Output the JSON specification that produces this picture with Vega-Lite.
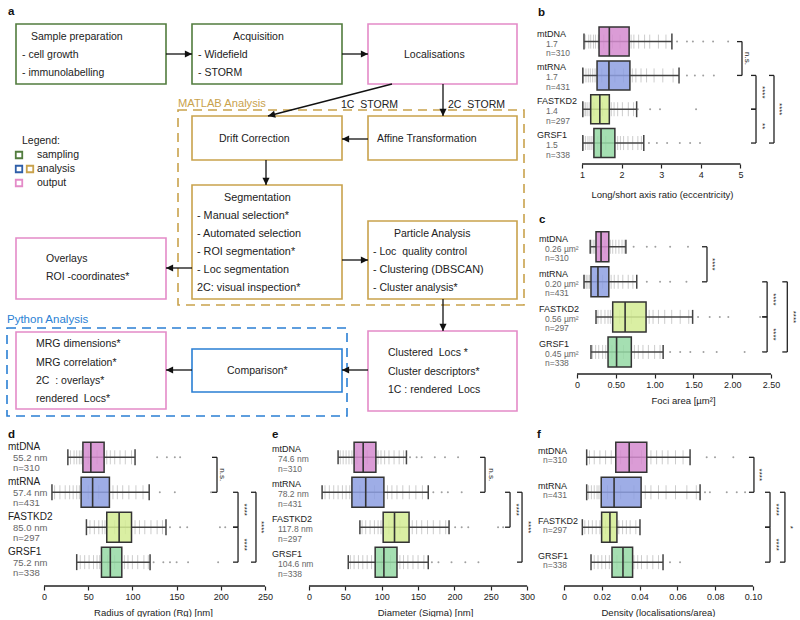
{
"$schema": "https://vega.github.io/schema/vega-lite/v6.json",
"padding": 0,
"config": {
  "font": "Liberation Sans",
  "view": {"stroke": null},
  "axisY": {"disable": true},
  "axisX": {"domain": false, "grid": false, "tickColor": "#222", "tickSize": 4, "tickWidth": 1.2, "labelFontSize": 9, "labelColor": "#222", "labelPadding": 2, "labelFlush": false, "labelOverlap": false, "titleFontSize": 9.5, "titleFontWeight": "normal", "titleColor": "#222", "titlePadding": 6, "titleAlign": "center"}
},
"datasets": {
  "box": [
    {"p":"b","g":"mtDNA","i":0,"lo":1.05,"q1":1.43,"med":1.69,"q3":2.19,"hi":3.27,"info":"1.7\nn=310"},
    {"p":"b","g":"mtRNA","i":1,"lo":1.02,"q1":1.38,"med":1.68,"q3":2.21,"hi":3.45,"info":"1.7\nn=431"},
    {"p":"b","g":"FASTKD2","i":2,"lo":1.02,"q1":1.22,"med":1.45,"q3":1.69,"hi":2.38,"info":"1.4\nn=297"},
    {"p":"b","g":"GRSF1","i":3,"lo":1.02,"q1":1.30,"med":1.48,"q3":1.83,"hi":2.56,"info":"1.5\nn=338"},
    {"p":"c","g":"mtDNA","i":0,"lo":0.17,"q1":0.245,"med":0.31,"q3":0.41,"hi":0.63,"info":"0.26 µm²\nn=310"},
    {"p":"c","g":"mtRNA","i":1,"lo":0.09,"q1":0.18,"med":0.27,"q3":0.41,"hi":0.77,"info":"0.20 µm²\nn=431"},
    {"p":"c","g":"FASTKD2","i":2,"lo":0.245,"q1":0.46,"med":0.62,"q3":0.89,"hi":1.49,"info":"0.56 µm²\nn=297"},
    {"p":"c","g":"GRSF1","i":3,"lo":0.18,"q1":0.40,"med":0.51,"q3":0.70,"hi":1.11,"info":"0.45 µm²\nn=338"},
    {"p":"d","g":"mtDNA","i":0,"lo":27,"q1":44,"med":53,"q3":68,"hi":103,"info":"55.2 nm\nn=310"},
    {"p":"d","g":"mtRNA","i":1,"lo":9,"q1":42,"med":55,"q3":74,"hi":119,"info":"57.4 nm\nn=431"},
    {"p":"d","g":"FASTKD2","i":2,"lo":48,"q1":71,"med":85,"q3":99,"hi":138,"info":"85.0 nm\nn=297"},
    {"p":"d","g":"GRSF1","i":3,"lo":37,"q1":65,"med":75,"q3":88,"hi":120,"info":"75.2 nm\nn=338"},
    {"p":"e","g":"mtDNA","i":0,"lo":40,"q1":62,"med":74.5,"q3":92,"hi":134,"info":"74.6 nm\nn=310"},
    {"p":"e","g":"mtRNA","i":1,"lo":18,"q1":59,"med":78,"q3":103,"hi":164,"info":"78.2 nm\nn=431"},
    {"p":"e","g":"FASTKD2","i":2,"lo":70,"q1":102,"med":117.6,"q3":137.6,"hi":192.6,"info":"117.8 nm\nn=297"},
    {"p":"e","g":"GRSF1","i":3,"lo":54,"q1":91,"med":103,"q3":121,"hi":164,"info":"104.6 nm\nn=338"},
    {"p":"f","g":"mtDNA","i":0,"lo":0.012,"q1":0.0274,"med":0.0345,"q3":0.0438,"hi":0.0667,"info":"n=310"},
    {"p":"f","g":"mtRNA","i":1,"lo":0.012,"q1":0.0197,"med":0.0265,"q3":0.0408,"hi":0.072,"info":"n=431"},
    {"p":"f","g":"FASTKD2","i":2,"lo":0.0097,"q1":0.0199,"med":0.0243,"q3":0.028,"hi":0.0402,"info":"n=297"},
    {"p":"f","g":"GRSF1","i":3,"lo":0.0143,"q1":0.0254,"med":0.0312,"q3":0.0363,"hi":0.0524,"info":"n=338"}
  ],
  "sw": [
    {"p":"b","i":0,"v":[1.08,1.17,1.22,1.29,1.34,1.41,1.55,1.77,1.96,2.24,2.31,2.43,2.58,2.71,2.93,3.12]},
    {"p":"b","i":1,"v":[1.04,1.1,1.16,1.21,1.27,1.33,1.5,1.83,2.05,2.27,2.36,2.49,2.63,2.82,3.04,3.3]},
    {"p":"b","i":2,"v":[1.05,1.09,1.13,1.18,1.3,1.52,1.74,1.81,1.9,2.02,2.17,2.3]},
    {"p":"b","i":3,"v":[1.04,1.09,1.15,1.2,1.25,1.4,1.6,1.9,1.97,2.05,2.16,2.28,2.41,2.5]},
    {"p":"c","i":0,"v":[0.19,0.21,0.23,0.3,0.36,0.43,0.46,0.5,0.54,0.58,0.61]},
    {"p":"c","i":1,"v":[0.1,0.12,0.14,0.16,0.25,0.33,0.44,0.48,0.53,0.59,0.66,0.72]},
    {"p":"c","i":2,"v":[0.27,0.31,0.36,0.4,0.43,0.55,0.7,0.93,0.98,1.05,1.13,1.22,1.33,1.44]},
    {"p":"c","i":3,"v":[0.2,0.24,0.28,0.33,0.37,0.45,0.6,0.74,0.79,0.85,0.92,1.0,1.07]},
    {"p":"d","i":0,"v":[30,34,37,40,42,50,60,71,75,80,86,92,99]},
    {"p":"d","i":1,"v":[12,18,24,29,33,37,40,50,62,78,83,89,96,104,112]},
    {"p":"d","i":2,"v":[52,57,62,66,69,80,92,103,108,114,121,128,134]},
    {"p":"d","i":3,"v":[41,46,51,56,60,63,72,80,91,95,100,106,113,118]},
    {"p":"e","i":0,"v":[43,47,51,55,59,66,80,95,99,104,110,117,124,130]},
    {"p":"e","i":1,"v":[22,28,34,40,46,51,56,70,90,108,114,121,129,138,147,156]},
    {"p":"e","i":2,"v":[73,78,84,90,95,99,110,125,142,148,155,163,171,180,188]},
    {"p":"e","i":3,"v":[57,62,68,74,80,86,100,112,125,130,136,143,150,158]},
    {"p":"f","i":0,"v":[0.0135,0.016,0.019,0.022,0.025,0.03,0.036,0.041,0.046,0.049,0.052,0.055,0.059,0.063]},
    {"p":"f","i":1,"v":[0.013,0.0145,0.016,0.0175,0.0185,0.023,0.03,0.037,0.043,0.046,0.05,0.054,0.059,0.065,0.07]},
    {"p":"f","i":2,"v":[0.011,0.013,0.015,0.017,0.019,0.022,0.025,0.029,0.031,0.033,0.035,0.038]},
    {"p":"f","i":3,"v":[0.016,0.018,0.02,0.022,0.024,0.028,0.032,0.037,0.039,0.041,0.044,0.047,0.05]}
  ],
  "out": [
    {"p":"b","i":0,"v":[3.40,3.65,3.80,4.06,4.31,4.69]},
    {"p":"b","i":1,"v":[3.65,3.85,4.06,4.33]},
    {"p":"b","i":2,"v":[2.41,2.72,2.97,3.88]},
    {"p":"b","i":3,"v":[2.69,2.89,3.15,3.47,3.73,3.98]},
    {"p":"c","i":0,"v":[0.73,0.9,1.01,1.2,1.43]},
    {"p":"c","i":1,"v":[0.9,1.07,1.2,1.41]},
    {"p":"c","i":2,"v":[1.56,1.71,1.84,1.95,2.36]},
    {"p":"c","i":3,"v":[1.2,1.33,1.46,1.63,1.8,2.16]},
    {"p":"d","i":0,"v":[128,139,148,154]},
    {"p":"d","i":1,"v":[131,148,189]},
    {"p":"d","i":2,"v":[142.5,154,162,199,205]},
    {"p":"d","i":3,"v":[124,135,142.5,150,163,197]},
    {"p":"e","i":0,"v":[139,148,155,173,187,205]},
    {"p":"e","i":1,"v":[171,182.5,191,210]},
    {"p":"e","i":2,"v":[201,210,219,260,267]},
    {"p":"e","i":3,"v":[169,178,196,215,233]},
    {"p":"f","i":0,"v":[0.0755,0.0799,0.0896]},
    {"p":"f","i":1,"v":[0.0746,0.0772,0.0861,0.0914,0.0958]},
    {"p":"f","i":3,"v":[0.0561,0.0614]}
  ],
  "br": [
    {"p":"b","i1":0,"i2":1,"im":0.5,"x":5.04,"lab":"n.s."},
    {"p":"b","i1":1,"i2":2,"im":1.5,"x":5.394,"lab":"****"},
    {"p":"b","i1":2,"i2":3,"im":2.5,"x":5.394,"lab":"**"},
    {"p":"b","i1":1,"i2":3,"im":2,"x":5.848,"lab":"****"},
    {"p":"c","i1":0,"i2":1,"im":0.5,"x":1.675,"lab":"****"},
    {"p":"c","i1":1,"i2":2,"im":1.5,"x":2.45,"lab":"****"},
    {"p":"c","i1":2,"i2":3,"im":2.5,"x":2.45,"lab":"****"},
    {"p":"c","i1":1,"i2":3,"im":2,"x":2.71,"lab":"****"},
    {"p":"d","i1":0,"i2":1,"im":0.5,"x":195.7,"lab":"n.s."},
    {"p":"d","i1":1,"i2":2,"im":1.5,"x":219.5,"lab":"****"},
    {"p":"d","i1":2,"i2":3,"im":2.5,"x":219.5,"lab":"****"},
    {"p":"d","i1":1,"i2":3,"im":2,"x":239.8,"lab":"****"},
    {"p":"e","i1":0,"i2":1,"im":0.5,"x":242.1,"lab":"n.s."},
    {"p":"e","i1":1,"i2":2,"im":1.5,"x":276.5,"lab":"****"},
    {"p":"e","i1":1,"i2":3,"im":2,"x":293,"lab":"****"},
    {"p":"f","i1":0,"i2":1,"im":0.5,"x":0.1005,"lab":"****"},
    {"p":"f","i1":1,"i2":2,"im":1.5,"x":0.109,"lab":"****"},
    {"p":"f","i1":2,"i2":3,"im":2.5,"x":0.109,"lab":"****"},
    {"p":"f","i1":1,"i2":3,"im":2,"x":0.1169,"lab":"*"}
  ],
  "fbox": [
    {"x":16,"x2":166,"y":24,"y2":84,"kind":"sampling"},
    {"x":192,"x2":342,"y":24,"y2":84,"kind":"sampling"},
    {"x":368,"x2":517,"y":24,"y2":84,"kind":"output"},
    {"x":192,"x2":342,"y":116,"y2":160,"kind":"matlab"},
    {"x":368,"x2":517,"y":116,"y2":160,"kind":"matlab"},
    {"x":192,"x2":342,"y":185,"y2":299,"kind":"matlab"},
    {"x":16,"x2":166,"y":238,"y2":299,"kind":"output"},
    {"x":368,"x2":517,"y":221,"y2":299,"kind":"matlab"},
    {"x":368,"x2":517,"y":331,"y2":411,"kind":"output"},
    {"x":16,"x2":166,"y":332,"y2":409,"kind":"output"},
    {"x":192,"x2":342,"y":349,"y2":392,"kind":"python"}
  ],
  "cont": [
    {"x":178,"x2":524,"y":110,"y2":305,"kind":"matlab"},
    {"x":7,"x2":347,"y":328,"y2":416,"kind":"python"}
  ],
  "arr": [
    {"x":166,"y":54,"x2":192,"y2":54,"dir":"r"},
    {"x":342,"y":54,"x2":368,"y2":54,"dir":"r"},
    {"x":392,"y":84,"x2":268,"y2":116,"dir":"dl"},
    {"x":443,"y":84,"x2":443,"y2":116,"dir":"d"},
    {"x":368,"y":139,"x2":342,"y2":139,"dir":"l"},
    {"x":266,"y":160,"x2":266,"y2":185,"dir":"d"},
    {"x":192,"y":268,"x2":166,"y2":268,"dir":"l"},
    {"x":342,"y":260,"x2":368,"y2":260,"dir":"r"},
    {"x":443,"y":299,"x2":443,"y2":331,"dir":"d"},
    {"x":368,"y":370,"x2":342,"y2":370,"dir":"l"},
    {"x":192,"y":370,"x2":166,"y2":370,"dir":"l"}
  ],
  "leg": [
    {"x":19,"y":155,"kind":"sampling"},
    {"x":19,"y":169,"kind":"analysis"},
    {"x":30,"y":169,"kind":"matlab"},
    {"x":19,"y":183,"kind":"output"}
  ],
  "ftxt": [
    {"x":31,"y":37,"t":"Sample preparation","role":"body"},
    {"x":22,"y":55,"t":"- cell growth","role":"body"},
    {"x":22,"y":73,"t":"- immunolabelling","role":"body"},
    {"x":233,"y":37,"t":"Acquisition","role":"body"},
    {"x":198,"y":55,"t":"- Widefield","role":"body"},
    {"x":198,"y":73,"t":"- STORM","role":"body"},
    {"x":404,"y":55,"t":"Localisations","role":"body"},
    {"x":178,"y":104,"t":"MATLAB Analysis","role":"matlab"},
    {"x":341,"y":105,"t":"1C\u00a0 STORM","role":"body"},
    {"x":448,"y":105,"t":"2C\u00a0 STORM","role":"body"},
    {"x":219,"y":139,"t":"Drift Correction","role":"body"},
    {"x":377,"y":139,"t":"Affine Transformation","role":"body"},
    {"x":22,"y":141,"t":"Legend:","role":"body"},
    {"x":37,"y":155,"t":"sampling","role":"body"},
    {"x":37,"y":169,"t":"analysis","role":"body"},
    {"x":37,"y":183,"t":"output","role":"body"},
    {"x":224,"y":198,"t":"Segmentation","role":"seg"},
    {"x":197,"y":216,"t":"- Manual selection*","role":"seg"},
    {"x":197,"y":234,"t":"- Automated selection","role":"seg"},
    {"x":197,"y":252,"t":"- ROI segmentation*","role":"seg"},
    {"x":197,"y":270,"t":"- Loc segmentation","role":"seg"},
    {"x":197,"y":288,"t":"2C: visual inspection*","role":"seg"},
    {"x":46,"y":259,"t":"Overlays","role":"body"},
    {"x":46,"y":277,"t":"ROI -coordinates*","role":"body"},
    {"x":394,"y":234,"t":"Particle Analysis","role":"body"},
    {"x":373,"y":252,"t":"- Loc\u00a0 quality control","role":"body"},
    {"x":373,"y":270,"t":"- Clustering (DBSCAN)","role":"seg"},
    {"x":373,"y":288,"t":"- Cluster analysis*","role":"body"},
    {"x":7,"y":320,"t":"Python Analysis","role":"python"},
    {"x":36,"y":344,"t":"MRG dimensions*","role":"body"},
    {"x":36,"y":363,"t":"MRG correlation*","role":"body"},
    {"x":36,"y":381,"t":"2C\u00a0 : overlays*","role":"body"},
    {"x":36,"y":399,"t":"rendered\u00a0 Locs*","role":"body"},
    {"x":227,"y":371,"t":"Comparison*","role":"body"},
    {"x":388,"y":353,"t":"Clustered\u00a0 Locs *","role":"body"},
    {"x":388,"y":372,"t":"Cluster descriptors*","role":"body"},
    {"x":388,"y":390,"t":"1C : rendered\u00a0 Locs","role":"body"}
  ]
},
"spacing": 3,
"vconcat": [
{
 "spacing": 12,
 "hconcat": [
  {
   "width": 525, "height": 420,
   "layer": [
    {"data":{"name":"cont"},"mark":{"type":"rect","filled":false,"strokeDash":[9,6],"strokeWidth":1.6},
     "encoding":{"x":{"field":"x","type":"quantitative","scale":{"domain":[0,525],"nice":false,"zero":false},"axis":null},"x2":{"field":"x2"},
       "y":{"field":"y","type":"quantitative","scale":{"domain":[0,420],"nice":false,"zero":false,"reverse":true},"axis":null},"y2":{"field":"y2"},
       "stroke":{"field":"kind","type":"nominal","scale":{"domain":["sampling","matlab","python","output","analysis"],"range":["#527c3e","#c9a24c","#2a7fd4","#e48bc8","#2e5ea8"]},"legend":null}}},
    {"data":{"name":"fbox"},"mark":{"type":"rect","fill":"white","strokeWidth":1.6},
     "encoding":{"x":{"field":"x","type":"quantitative","axis":null},"x2":{"field":"x2"},"y":{"field":"y","type":"quantitative","axis":null},"y2":{"field":"y2"},
       "stroke":{"field":"kind","type":"nominal","legend":null}}},
    {"data":{"name":"arr"},"mark":{"type":"rule","color":"#111","strokeWidth":1.3},
     "encoding":{"x":{"field":"x","type":"quantitative","axis":null},"y":{"field":"y","type":"quantitative","axis":null},"x2":{"field":"x2"},"y2":{"field":"y2"}}},
    {"data":{"name":"arr"},"mark":{"type":"point","filled":true,"color":"#111","size":80,"opacity":1},
     "encoding":{"x":{"field":"x2","type":"quantitative","axis":null},"y":{"field":"y2","type":"quantitative","axis":null},
       "shape":{"field":"dir","type":"nominal","scale":{"domain":["r","l","d","dl"],"range":["M0,0L-1.6,-0.8L-1.6,0.8Z","M0,0L1.6,-0.8L1.6,0.8Z","M0,0L-0.8,-1.6L0.8,-1.6Z","M0,0L1.349,-1.174L1.749,0.374Z"]},"legend":null}}},
    {"data":{"name":"leg"},"mark":{"type":"point","shape":"square","filled":false,"size":42,"strokeWidth":1.8,"opacity":1},
     "encoding":{"x":{"field":"x","type":"quantitative","axis":null},"y":{"field":"y","type":"quantitative","axis":null},"stroke":{"field":"kind","type":"nominal","legend":null}}},
    {"data":{"name":"ftxt"},"mark":{"type":"text","align":"left","baseline":"middle"},
     "encoding":{"x":{"field":"x","type":"quantitative","axis":null},"y":{"field":"y","type":"quantitative","axis":null},"text":{"field":"t"},
       "color":{"field":"role","type":"nominal","scale":{"domain":["body","seg","matlab","python"],"range":["#222222","#222222","#c9a24c","#2a7fd4"]},"legend":null},
       "size":{"field":"role","type":"ordinal","scale":{"domain":["body","seg","matlab","python"],"range":[10.5,11.5,10.5,10.5]},"legend":null}}},
    {"data":{"values":[{}]},"mark":{"type":"text","fontWeight":"bold","fontSize":11.5,"align":"left","baseline":"middle","color":"#111"},
     "encoding":{"x":{"datum":8,"axis":null},"y":{"datum":12,"axis":null},"text":{"value":"a"}}}
   ]
  },
  {
   "spacing": 37,
   "bounds": "flush",
   "vconcat": [
    {
     "width": 260, "height": 164,
     "layer": [
      {"data":{"values":[{}]},"mark":{"type":"rule","color":"#222","strokeWidth":1.4},
       "encoding":{"x":{"datum":1,"type":"quantitative","scale":{"domain":[-0.1364,6.429],"nice":false,"zero":false},"axis":{"values":[1,2,3,4,5],"format":"d","title":"Long/short axis ratio (eccentricity)","titleX":125,"titlePadding":10}},"x2":{"datum":5},"y":{"value":"height"}}},
      {"data":{"name":"sw"},"transform":[{"filter":"datum.p==='b'"},{"flatten":["v"]}],"mark":{"type":"point","shape":"M0,-1L0,1","filled":false,"size":196,"strokeWidth":0.9,"color":"#c2c2c2","opacity":0.9},
       "encoding":{"x":{"field":"v","type":"quantitative"},"y":{"field":"i","type":"quantitative","scale":{"domain":[-1.083,3.472],"nice":false,"zero":false,"reverse":true}}}},
      {"data":{"name":"out"},"transform":[{"filter":"datum.p==='b'"},{"flatten":["v"]}],"mark":{"type":"circle","size":4,"color":"#a0a0a0","opacity":1},
       "encoding":{"x":{"field":"v","type":"quantitative"},"y":{"field":"i","type":"quantitative"}}},
      {"data":{"name":"box"},"transform":[{"filter":"datum.p==='b'"}],"layer":[
        {"mark":{"type":"rule","color":"#444","strokeWidth":1.5},"encoding":{"x":{"field":"lo","type":"quantitative"},"x2":{"field":"hi"},"y":{"field":"i","type":"quantitative"}}},
        {"mark":{"type":"bar","orient":"horizontal","size":29,"stroke":"#333","strokeWidth":1.5,"fillOpacity":0.85},"encoding":{"x":{"field":"q1","type":"quantitative"},"x2":{"field":"q3"},"y":{"field":"i","type":"quantitative"},"fill":{"field":"g","type":"nominal","scale":{"domain":["mtDNA","mtRNA","FASTKD2","GRSF1"],"range":["#d58bcf","#8d9fe2","#d3ec93","#95d9a4"]},"legend":null}}},
        {"mark":{"type":"point","shape":"M0,-1L0,1","filled":false,"size":841,"strokeWidth":1.6,"color":"#333","opacity":1},"encoding":{"x":{"field":"med","type":"quantitative"},"y":{"field":"i","type":"quantitative"}}},
        {"mark":{"type":"point","shape":"M0,-1L0,1","filled":false,"size":256,"strokeWidth":1.5,"color":"#444","opacity":1},"encoding":{"x":{"field":"lo","type":"quantitative"},"y":{"field":"i","type":"quantitative"}}},
        {"mark":{"type":"point","shape":"M0,-1L0,1","filled":false,"size":256,"strokeWidth":1.5,"color":"#444","opacity":1},"encoding":{"x":{"field":"hi","type":"quantitative"},"y":{"field":"i","type":"quantitative"}}},
        {"mark":{"type":"text","align":"left","baseline":"middle","dy":-8,"fontSize":9,"color":"#222"},"encoding":{"x":{"datum":-0.1364},"y":{"field":"i","type":"quantitative"},"text":{"field":"g"}}},
        {"mark":{"type":"text","align":"left","baseline":"middle","dx":9,"dy":2,"fontSize":8.5,"color":"#666","lineBreak":"\n","lineHeight":9.5},"encoding":{"x":{"datum":-0.1364},"y":{"field":"i","type":"quantitative"},"text":{"field":"info"}}}
      ]},
      {"data":{"name":"br"},"transform":[{"filter":"datum.p==='b'"}],"layer":[
        {"mark":{"type":"rule","color":"#222","strokeWidth":1.3},"encoding":{"x":{"field":"x","type":"quantitative"},"y":{"field":"i1","type":"quantitative"},"y2":{"field":"i2"}}},
        {"mark":{"type":"point","shape":"M-1,0L0,0","filled":false,"size":100,"strokeWidth":1.3,"color":"#222","opacity":1},"encoding":{"x":{"field":"x","type":"quantitative"},"y":{"field":"i1","type":"quantitative"}}},
        {"mark":{"type":"point","shape":"M-1,0L0,0","filled":false,"size":100,"strokeWidth":1.3,"color":"#222","opacity":1},"encoding":{"x":{"field":"x","type":"quantitative"},"y":{"field":"i2","type":"quantitative"}}},
        {"mark":{"type":"text","angle":90,"align":"center","baseline":"middle","xOffset":5.5,"fontSize":8,"color":"#222"},"encoding":{"x":{"field":"x","type":"quantitative"},"y":{"field":"im","type":"quantitative"},"text":{"field":"lab"}}}
      ]},
      {"data":{"values":[{}]},"mark":{"type":"text","fontWeight":"bold","fontSize":11.5,"align":"left","baseline":"middle","color":"#111"},
       "encoding":{"x":{"datum":-0.111},"y":{"datum":-0.833},"text":{"value":"b"}}}
     ]
    },
    {
     "width": 260, "height": 173,
     "layer": [
      {"data":{"values":[{}]},"mark":{"type":"rule","color":"#222","strokeWidth":1.4},
       "encoding":{"x":{"datum":0,"type":"quantitative","scale":{"domain":[-0.5155,2.835],"nice":false,"zero":false},"axis":{"values":[0,0.5,1,1.5,2,2.5],"labelExpr":"datum.value === 0 ? '0' : format(datum.value, '.2f')","title":"Foci area [µm²]","titleX":146}},"x2":{"datum":2.5},"y":{"value":"height"}}},
      {"data":{"name":"sw"},"transform":[{"filter":"datum.p==='c'"},{"flatten":["v"]}],"mark":{"type":"point","shape":"M0,-1L0,1","filled":false,"size":196,"strokeWidth":0.9,"color":"#c2c2c2","opacity":0.9},
       "encoding":{"x":{"field":"v","type":"quantitative"},"y":{"field":"i","type":"quantitative","scale":{"domain":[-1.162,3.486],"nice":false,"zero":false,"reverse":true}}}},
      {"data":{"name":"out"},"transform":[{"filter":"datum.p==='c'"},{"flatten":["v"]}],"mark":{"type":"circle","size":4,"color":"#a0a0a0","opacity":1},
       "encoding":{"x":{"field":"v","type":"quantitative"},"y":{"field":"i","type":"quantitative"}}},
      {"data":{"name":"box"},"transform":[{"filter":"datum.p==='c'"}],"layer":[
        {"mark":{"type":"rule","color":"#444","strokeWidth":1.5},"encoding":{"x":{"field":"lo","type":"quantitative"},"x2":{"field":"hi"},"y":{"field":"i","type":"quantitative"}}},
        {"mark":{"type":"bar","orient":"horizontal","size":30,"stroke":"#333","strokeWidth":1.5,"fillOpacity":0.85},"encoding":{"x":{"field":"q1","type":"quantitative"},"x2":{"field":"q3"},"y":{"field":"i","type":"quantitative"},"fill":{"field":"g","type":"nominal","scale":{"domain":["mtDNA","mtRNA","FASTKD2","GRSF1"],"range":["#d58bcf","#8d9fe2","#d3ec93","#95d9a4"]},"legend":null}}},
        {"mark":{"type":"point","shape":"M0,-1L0,1","filled":false,"size":900,"strokeWidth":1.6,"color":"#333","opacity":1},"encoding":{"x":{"field":"med","type":"quantitative"},"y":{"field":"i","type":"quantitative"}}},
        {"mark":{"type":"point","shape":"M0,-1L0,1","filled":false,"size":196,"strokeWidth":1.5,"color":"#444","opacity":1},"encoding":{"x":{"field":"lo","type":"quantitative"},"y":{"field":"i","type":"quantitative"}}},
        {"mark":{"type":"point","shape":"M0,-1L0,1","filled":false,"size":196,"strokeWidth":1.5,"color":"#444","opacity":1},"encoding":{"x":{"field":"hi","type":"quantitative"},"y":{"field":"i","type":"quantitative"}}},
        {"mark":{"type":"text","align":"left","baseline":"middle","dy":-8,"fontSize":9,"color":"#222"},"encoding":{"x":{"datum":-0.49},"y":{"field":"i","type":"quantitative"},"text":{"field":"g"}}},
        {"mark":{"type":"text","align":"left","baseline":"middle","dx":6,"dy":2,"fontSize":8.5,"color":"#666","lineBreak":"\n","lineHeight":9.5},"encoding":{"x":{"datum":-0.49},"y":{"field":"i","type":"quantitative"},"text":{"field":"info"}}}
      ]},
      {"data":{"name":"br"},"transform":[{"filter":"datum.p==='c'"}],"layer":[
        {"mark":{"type":"rule","color":"#222","strokeWidth":1.3},"encoding":{"x":{"field":"x","type":"quantitative"},"y":{"field":"i1","type":"quantitative"},"y2":{"field":"i2"}}},
        {"mark":{"type":"point","shape":"M-1,0L0,0","filled":false,"size":100,"strokeWidth":1.3,"color":"#222","opacity":1},"encoding":{"x":{"field":"x","type":"quantitative"},"y":{"field":"i1","type":"quantitative"}}},
        {"mark":{"type":"point","shape":"M-1,0L0,0","filled":false,"size":100,"strokeWidth":1.3,"color":"#222","opacity":1},"encoding":{"x":{"field":"x","type":"quantitative"},"y":{"field":"i2","type":"quantitative"}}},
        {"mark":{"type":"text","angle":90,"align":"center","baseline":"middle","xOffset":5.5,"fontSize":8,"color":"#222"},"encoding":{"x":{"field":"x","type":"quantitative"},"y":{"field":"im","type":"quantitative"},"text":{"field":"lab"}}}
      ]},
      {"data":{"values":[{}]},"mark":{"type":"text","fontWeight":"bold","fontSize":11.5,"align":"left","baseline":"middle","color":"#111"},
       "encoding":{"x":{"datum":-0.49},"y":{"datum":-0.757},"text":{"value":"c"}}}
     ]
    }
   ]
  }
 ]
},
{
 "spacing": 2,
 "bounds": "flush",
 "hconcat": [
  {
   "width": 266, "height": 163,
   "layer": [
    {"data":{"values":[{}]},"mark":{"type":"rule","color":"#222","strokeWidth":1.4},
     "encoding":{"x":{"datum":0,"type":"quantitative","scale":{"domain":[-49.77,251.13],"nice":false,"zero":false},"axis":{"values":[0,50,100,150,200,250],"format":"d","title":"Radius of gyration (Rg) [nm]","titleX":153}},"x2":{"datum":250},"y":{"value":"height"}}},
    {"data":{"name":"sw"},"transform":[{"filter":"datum.p==='d'"},{"flatten":["v"]}],"mark":{"type":"point","shape":"M0,-1L0,1","filled":false,"size":196,"strokeWidth":0.9,"color":"#c2c2c2","opacity":0.9},
     "encoding":{"x":{"field":"v","type":"quantitative"},"y":{"field":"i","type":"quantitative","scale":{"domain":[-0.84,3.54],"nice":false,"zero":false,"reverse":true}}}},
    {"data":{"name":"out"},"transform":[{"filter":"datum.p==='d'"},{"flatten":["v"]}],"mark":{"type":"circle","size":4,"color":"#a0a0a0","opacity":1},
     "encoding":{"x":{"field":"v","type":"quantitative"},"y":{"field":"i","type":"quantitative"}}},
    {"data":{"name":"box"},"transform":[{"filter":"datum.p==='d'"}],"layer":[
      {"mark":{"type":"rule","color":"#444","strokeWidth":1.5},"encoding":{"x":{"field":"lo","type":"quantitative"},"x2":{"field":"hi"},"y":{"field":"i","type":"quantitative"}}},
      {"mark":{"type":"bar","orient":"horizontal","size":30,"stroke":"#333","strokeWidth":1.5,"fillOpacity":0.85},"encoding":{"x":{"field":"q1","type":"quantitative"},"x2":{"field":"q3"},"y":{"field":"i","type":"quantitative"},"fill":{"field":"g","type":"nominal","scale":{"domain":["mtDNA","mtRNA","FASTKD2","GRSF1"],"range":["#d58bcf","#8d9fe2","#d3ec93","#95d9a4"]},"legend":null}}},
      {"mark":{"type":"point","shape":"M0,-1L0,1","filled":false,"size":900,"strokeWidth":1.6,"color":"#333","opacity":1},"encoding":{"x":{"field":"med","type":"quantitative"},"y":{"field":"i","type":"quantitative"}}},
      {"mark":{"type":"point","shape":"M0,-1L0,1","filled":false,"size":256,"strokeWidth":1.5,"color":"#444","opacity":1},"encoding":{"x":{"field":"lo","type":"quantitative"},"y":{"field":"i","type":"quantitative"}}},
      {"mark":{"type":"point","shape":"M0,-1L0,1","filled":false,"size":256,"strokeWidth":1.5,"color":"#444","opacity":1},"encoding":{"x":{"field":"hi","type":"quantitative"},"y":{"field":"i","type":"quantitative"}}},
      {"mark":{"type":"text","align":"left","baseline":"middle","dy":-10,"fontSize":10,"color":"#222"},"encoding":{"x":{"datum":-40.7},"y":{"field":"i","type":"quantitative"},"text":{"field":"g"}}},
      {"mark":{"type":"text","align":"left","baseline":"middle","dx":5,"dy":0.5,"fontSize":9.5,"color":"#666","lineBreak":"\n","lineHeight":10.5},"encoding":{"x":{"datum":-40.7},"y":{"field":"i","type":"quantitative"},"text":{"field":"info"}}}
    ]},
    {"data":{"name":"br"},"transform":[{"filter":"datum.p==='d'"}],"layer":[
      {"mark":{"type":"rule","color":"#222","strokeWidth":1.3},"encoding":{"x":{"field":"x","type":"quantitative"},"y":{"field":"i1","type":"quantitative"},"y2":{"field":"i2"}}},
      {"mark":{"type":"point","shape":"M-1,0L0,0","filled":false,"size":100,"strokeWidth":1.3,"color":"#222","opacity":1},"encoding":{"x":{"field":"x","type":"quantitative"},"y":{"field":"i1","type":"quantitative"}}},
      {"mark":{"type":"point","shape":"M-1,0L0,0","filled":false,"size":100,"strokeWidth":1.3,"color":"#222","opacity":1},"encoding":{"x":{"field":"x","type":"quantitative"},"y":{"field":"i2","type":"quantitative"}}},
      {"mark":{"type":"text","angle":90,"align":"center","baseline":"middle","xOffset":5.5,"fontSize":8,"color":"#222"},"encoding":{"x":{"field":"x","type":"quantitative"},"y":{"field":"im","type":"quantitative"},"text":{"field":"lab"}}}
    ]},
    {"data":{"values":[{}]},"mark":{"type":"text","fontWeight":"bold","fontSize":11.5,"align":"left","baseline":"middle","color":"#111"},
     "encoding":{"x":{"datum":-40.7},"y":{"datum":-0.626},"text":{"value":"d"}}}
   ]
  },
  {
   "width": 264, "height": 163,
   "layer": [
    {"data":{"values":[{}]},"mark":{"type":"rule","color":"#222","strokeWidth":1.4},
     "encoding":{"x":{"datum":0,"type":"quantitative","scale":{"domain":[-56.4,306.7],"nice":false,"zero":false},"axis":{"values":[0,50,100,150,200,250,300],"format":"d","title":"Diameter (Sigma) [nm]","titleX":157}},"x2":{"datum":300},"y":{"value":"height"}}},
    {"data":{"name":"sw"},"transform":[{"filter":"datum.p==='e'"},{"flatten":["v"]}],"mark":{"type":"point","shape":"M0,-1L0,1","filled":false,"size":196,"strokeWidth":0.9,"color":"#c2c2c2","opacity":0.9},
     "encoding":{"x":{"field":"v","type":"quantitative"},"y":{"field":"i","type":"quantitative","scale":{"domain":[-0.84,3.54],"nice":false,"zero":false,"reverse":true}}}},
    {"data":{"name":"out"},"transform":[{"filter":"datum.p==='e'"},{"flatten":["v"]}],"mark":{"type":"circle","size":4,"color":"#a0a0a0","opacity":1},
     "encoding":{"x":{"field":"v","type":"quantitative"},"y":{"field":"i","type":"quantitative"}}},
    {"data":{"name":"box"},"transform":[{"filter":"datum.p==='e'"}],"layer":[
      {"mark":{"type":"rule","color":"#444","strokeWidth":1.5},"encoding":{"x":{"field":"lo","type":"quantitative"},"x2":{"field":"hi"},"y":{"field":"i","type":"quantitative"}}},
      {"mark":{"type":"bar","orient":"horizontal","size":30,"stroke":"#333","strokeWidth":1.5,"fillOpacity":0.85},"encoding":{"x":{"field":"q1","type":"quantitative"},"x2":{"field":"q3"},"y":{"field":"i","type":"quantitative"},"fill":{"field":"g","type":"nominal","scale":{"domain":["mtDNA","mtRNA","FASTKD2","GRSF1"],"range":["#d58bcf","#8d9fe2","#d3ec93","#95d9a4"]},"legend":null}}},
      {"mark":{"type":"point","shape":"M0,-1L0,1","filled":false,"size":900,"strokeWidth":1.6,"color":"#333","opacity":1},"encoding":{"x":{"field":"med","type":"quantitative"},"y":{"field":"i","type":"quantitative"}}},
      {"mark":{"type":"point","shape":"M0,-1L0,1","filled":false,"size":196,"strokeWidth":1.5,"color":"#444","opacity":1},"encoding":{"x":{"field":"lo","type":"quantitative"},"y":{"field":"i","type":"quantitative"}}},
      {"mark":{"type":"point","shape":"M0,-1L0,1","filled":false,"size":196,"strokeWidth":1.5,"color":"#444","opacity":1},"encoding":{"x":{"field":"hi","type":"quantitative"},"y":{"field":"i","type":"quantitative"}}},
      {"mark":{"type":"text","align":"left","baseline":"middle","dy":-8,"fontSize":9,"color":"#222"},"encoding":{"x":{"datum":-50.9},"y":{"field":"i","type":"quantitative"},"text":{"field":"g"}}},
      {"mark":{"type":"text","align":"left","baseline":"middle","dx":6,"dy":2,"fontSize":8.5,"color":"#666","lineBreak":"\n","lineHeight":9.5},"encoding":{"x":{"datum":-50.9},"y":{"field":"i","type":"quantitative"},"text":{"field":"info"}}}
    ]},
    {"data":{"name":"br"},"transform":[{"filter":"datum.p==='e'"}],"layer":[
      {"mark":{"type":"rule","color":"#222","strokeWidth":1.3},"encoding":{"x":{"field":"x","type":"quantitative"},"y":{"field":"i1","type":"quantitative"},"y2":{"field":"i2"}}},
      {"mark":{"type":"point","shape":"M-1,0L0,0","filled":false,"size":100,"strokeWidth":1.3,"color":"#222","opacity":1},"encoding":{"x":{"field":"x","type":"quantitative"},"y":{"field":"i1","type":"quantitative"}}},
      {"mark":{"type":"point","shape":"M-1,0L0,0","filled":false,"size":100,"strokeWidth":1.3,"color":"#222","opacity":1},"encoding":{"x":{"field":"x","type":"quantitative"},"y":{"field":"i2","type":"quantitative"}}},
      {"mark":{"type":"text","angle":90,"align":"center","baseline":"middle","xOffset":5.5,"fontSize":8,"color":"#222"},"encoding":{"x":{"field":"x","type":"quantitative"},"y":{"field":"im","type":"quantitative"},"text":{"field":"lab"}}}
    ]},
    {"data":{"values":[{}]},"mark":{"type":"text","fontWeight":"bold","fontSize":11.5,"align":"left","baseline":"middle","color":"#111"},
     "encoding":{"x":{"datum":-50.9},"y":{"datum":-0.626},"text":{"value":"e"}}}
   ]
  },
  {
   "width": 263, "height": 163,
   "layer": [
    {"data":{"values":[{}]},"mark":{"type":"rule","color":"#222","strokeWidth":1.4},
     "encoding":{"x":{"datum":0,"type":"quantitative","scale":{"domain":[-0.01587,0.12328],"nice":false,"zero":false},"axis":{"values":[0,0.02,0.04,0.06,0.08,0.1],"labelExpr":"datum.value === 0 ? '0' : format(datum.value, '.2f')","title":"Density (localisations/area)","titleX":124}},"x2":{"datum":0.1},"y":{"value":"height"}}},
    {"data":{"name":"sw"},"transform":[{"filter":"datum.p==='f'"},{"flatten":["v"]}],"mark":{"type":"point","shape":"M0,-1L0,1","filled":false,"size":196,"strokeWidth":0.9,"color":"#c2c2c2","opacity":0.9},
     "encoding":{"x":{"field":"v","type":"quantitative"},"y":{"field":"i","type":"quantitative","scale":{"domain":[-0.84,3.54],"nice":false,"zero":false,"reverse":true}}}},
    {"data":{"name":"out"},"transform":[{"filter":"datum.p==='f'"},{"flatten":["v"]}],"mark":{"type":"circle","size":4,"color":"#a0a0a0","opacity":1},
     "encoding":{"x":{"field":"v","type":"quantitative"},"y":{"field":"i","type":"quantitative"}}},
    {"data":{"name":"box"},"transform":[{"filter":"datum.p==='f'"}],"layer":[
      {"mark":{"type":"rule","color":"#444","strokeWidth":1.5},"encoding":{"x":{"field":"lo","type":"quantitative"},"x2":{"field":"hi"},"y":{"field":"i","type":"quantitative"}}},
      {"mark":{"type":"bar","orient":"horizontal","size":30,"stroke":"#333","strokeWidth":1.5,"fillOpacity":0.85},"encoding":{"x":{"field":"q1","type":"quantitative"},"x2":{"field":"q3"},"y":{"field":"i","type":"quantitative"},"fill":{"field":"g","type":"nominal","scale":{"domain":["mtDNA","mtRNA","FASTKD2","GRSF1"],"range":["#d58bcf","#8d9fe2","#d3ec93","#95d9a4"]},"legend":null}}},
      {"mark":{"type":"point","shape":"M0,-1L0,1","filled":false,"size":900,"strokeWidth":1.6,"color":"#333","opacity":1},"encoding":{"x":{"field":"med","type":"quantitative"},"y":{"field":"i","type":"quantitative"}}},
      {"mark":{"type":"point","shape":"M0,-1L0,1","filled":false,"size":256,"strokeWidth":1.5,"color":"#444","opacity":1},"encoding":{"x":{"field":"lo","type":"quantitative"},"y":{"field":"i","type":"quantitative"}}},
      {"mark":{"type":"point","shape":"M0,-1L0,1","filled":false,"size":256,"strokeWidth":1.5,"color":"#444","opacity":1},"encoding":{"x":{"field":"hi","type":"quantitative"},"y":{"field":"i","type":"quantitative"}}},
      {"mark":{"type":"text","align":"left","baseline":"middle","dy":-6,"fontSize":9,"color":"#222"},"encoding":{"x":{"datum":-0.01376},"y":{"field":"i","type":"quantitative"},"text":{"field":"g"}}},
      {"mark":{"type":"text","align":"left","baseline":"middle","dx":5,"dy":3,"fontSize":8.5,"color":"#666"},"encoding":{"x":{"datum":-0.01376},"y":{"field":"i","type":"quantitative"},"text":{"field":"info"}}}
    ]},
    {"data":{"name":"br"},"transform":[{"filter":"datum.p==='f'"}],"layer":[
      {"mark":{"type":"rule","color":"#222","strokeWidth":1.3},"encoding":{"x":{"field":"x","type":"quantitative"},"y":{"field":"i1","type":"quantitative"},"y2":{"field":"i2"}}},
      {"mark":{"type":"point","shape":"M-1,0L0,0","filled":false,"size":100,"strokeWidth":1.3,"color":"#222","opacity":1},"encoding":{"x":{"field":"x","type":"quantitative"},"y":{"field":"i1","type":"quantitative"}}},
      {"mark":{"type":"point","shape":"M-1,0L0,0","filled":false,"size":100,"strokeWidth":1.3,"color":"#222","opacity":1},"encoding":{"x":{"field":"x","type":"quantitative"},"y":{"field":"i2","type":"quantitative"}}},
      {"mark":{"type":"text","angle":90,"align":"center","baseline":"middle","xOffset":5.5,"fontSize":8,"color":"#222"},"encoding":{"x":{"field":"x","type":"quantitative"},"y":{"field":"im","type":"quantitative"},"text":{"field":"lab"}}}
    ]},
    {"data":{"values":[{}]},"mark":{"type":"text","fontWeight":"bold","fontSize":11.5,"align":"left","baseline":"middle","color":"#111"},
     "encoding":{"x":{"datum":-0.01429},"y":{"datum":-0.626},"text":{"value":"f"}}}
   ]
  }
 ]
}
]
}
